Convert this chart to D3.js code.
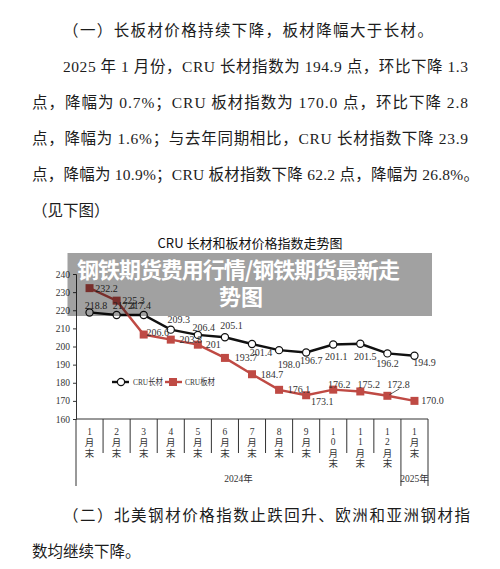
<!DOCTYPE html>
<html>
<head>
<meta charset="utf-8">
<script src="https://cdn.jsdelivr.net/npm/d3@7/dist/d3.min.js"></script>
<style>
  html, body { margin: 0; padding: 0; background: #ffffff; }
  svg { display: block; }
</style>
</head>
<body>
<svg id="chart" width="500" height="569"></svg>
<script>
// ---------------- data ----------------
const categories = ["1月末","2月末","3月末","4月末","5月末","6月末","7月末","8月末","9月末","10月末","11月末","12月末","1月末"];
const longSteel  = [218.8, 217.4, 217.4, 209.3, 206.4, 205.1, 201.4, 198.0, 196.7, 201.1, 201.5, 196.2, 194.9];
const plateSteel = [232.2, 225.3, 206.6, 203.8, 201, 193.7, 184.7, 176.1, 173.1, 176.2, 175.2, 172.8, 170.0];
const yTicks = [160, 170, 180, 190, 200, 210, 220, 230, 240];
const yearGroups = [{label: "2024年", from: 0, to: 11}, {label: "2025年", from: 12, to: 12}];
const seriesNames = ["CRU长材", "CRU板材"];
const chartTitle = "CRU 长材和板材价格指数走势图";
const overlayLines = ["钢铁期货费用行情/钢铁期货最新走", "势图"];
const paraTop = [
  "（一）长板材价格持续下降，板材降幅大于长材。",
  "2025 年 1 月份，CRU 长材指数为 194.9 点，环比下降 1.3",
  "点，降幅为 0.7%；CRU 板材指数为 170.0 点，环比下降 2.8",
  "点，降幅为 1.6%；与去年同期相比，CRU 长材指数下降 23.9",
  "点，降幅为 10.9%；CRU 板材指数下降 62.2 点，降幅为 26.8%。",
  "（见下图）"
];
const paraBottom = [
  "（二）北美钢材价格指数止跌回升、欧洲和亚洲钢材指",
  "数均继续下降。"
];

// ---------------- layout ----------------
const svg = d3.select("#chart");
const serif = "'Liberation Serif', 'Times New Roman', 'Noto Sans CJK SC', serif";
const cjk = "'Noto Sans CJK SC', 'Noto Sans', sans-serif";

// paragraph lines: [x, centerY, textLength or null]
const paraTopLayout = [[63, 30, 370], [63, 66, 405], [32, 102, 436], [32, 138, 436], [32, 174, 447], [32, 210, null]];
const paraBottomLayout = [[63, 515, 407], [32, 551, null]];

function drawPara(lines, layout) {
  lines.forEach((t, i) => {
    const [x, y, len] = layout[i];
    const el = svg.append("text")
      .attr("x", x).attr("y", y)
      .attr("dominant-baseline", "central")
      .attr("font-family", serif)
      .attr("font-size", 15.5)
      .attr("fill", "#1c1c1c")
      .text(t);
    if (len) el.attr("textLength", len).attr("lengthAdjust", "spacing");
  });
}
drawPara(paraTop, paraTopLayout);
drawPara(paraBottom, paraBottomLayout);

// chart scales
const x = d3.scaleBand().domain(d3.range(categories.length)).range([76, 428]).padding(0);
const y = d3.scaleLinear().domain([160, 240]).range([419, 274]);
const cx = i => x(i) + x.bandwidth() / 2;

// title
svg.append("text")
  .attr("x", 250).attr("y", 242)
  .attr("text-anchor", "middle").attr("dominant-baseline", "central")
  .attr("font-family", cjk).attr("font-size", 13).attr("fill", "#111")
  .text(chartTitle);

// y axis
const yAxis = svg.append("g")
  .attr("transform", "translate(76,0)")
  .call(d3.axisLeft(y).tickValues(yTicks).tickSize(3).tickPadding(3).tickFormat(d3.format("d")));
yAxis.select(".domain").attr("stroke", "#333");
yAxis.selectAll(".tick line").attr("stroke", "#333");
yAxis.selectAll(".tick text").attr("font-family", serif).attr("font-size", 9.5).attr("fill", "#333");

// extend y axis downward through the category table
svg.append("line").attr("x1", 76).attr("x2", 76).attr("y1", 419).attr("y2", 486).attr("stroke", "#333");
// x axis baseline
svg.append("line").attr("x1", 76).attr("x2", 428).attr("y1", 419).attr("y2", 419).attr("stroke", "#333");
// category separators
d3.range(1, categories.length + 1).forEach(i => {
  const xx = i < categories.length ? x(i) : 428;
  const isYearEdge = yearGroups.some(g => g.from === i) || i === categories.length;
  svg.append("line")
    .attr("x1", xx).attr("x2", xx)
    .attr("y1", 419).attr("y2", isYearEdge ? 486 : 453)
    .attr("stroke", "#333");
});
// category labels (vertical stacking of characters)
categories.forEach((c, i) => {
  const chars = Array.from(c);
  chars.forEach((ch, k) => {
    svg.append("text")
      .attr("x", cx(i)).attr("y", 432 + k * 10.4)
      .attr("text-anchor", "middle").attr("dominant-baseline", "central")
      .attr("font-family", /[0-9]/.test(ch) ? serif : cjk)
      .attr("font-size", 9.5).attr("fill", "#333")
      .text(ch);
  });
});
// year labels
yearGroups.forEach(g => {
  const x0 = x(g.from), x1 = x(g.to) + x.bandwidth();
  svg.append("text")
    .attr("x", (x0 + x1) / 2).attr("y", 479)
    .attr("text-anchor", "middle").attr("dominant-baseline", "central")
    .attr("font-family", serif).attr("font-size", 9.5).attr("fill", "#333")
    .text(g.label);
});

// lines
const line = d3.line().x((d, i) => cx(i)).y(d => y(d));
const black = "#111111", red = "#bf4a44";
svg.append("path").datum(longSteel).attr("d", line)
  .attr("fill", "none").attr("stroke", black).attr("stroke-width", 2.4);
svg.append("path").datum(plateSteel).attr("d", line)
  .attr("fill", "none").attr("stroke", red).attr("stroke-width", 2.4);

// markers
svg.selectAll(".mk-long").data(longSteel).enter().append("circle")
  .attr("cx", (d, i) => cx(i)).attr("cy", d => y(d)).attr("r", 3.6)
  .attr("fill", "#fff").attr("stroke", black).attr("stroke-width", 1.2);
svg.selectAll(".mk-plate").data(plateSteel).enter().append("rect")
  .attr("x", (d, i) => cx(i) - 4).attr("y", d => y(d) - 4)
  .attr("width", 8).attr("height", 8).attr("fill", red);

// data labels (offsets are layout only)
const longOffsets = [[6.5,-7],[7.4,-9],[-4,-9],[8,-10],[6,-7],[6.5,-12],[9,9],[10,14],[5,8.5],[3,12],[5,13],[0,10],[10,7]];
const plateOffsets = [[17,0],[17,-0.5],[14,-2],[20,0],[15.5,0],[21,0],[20,0],[20,0],[16,6],[6,-5.5],[8.5,-6.5],[11,-11.5],[18,0]];
const fmtLong = d => d.toFixed(1);
const fmtPlate = d => (Number.isInteger(d) && d !== 170 ? String(d) : d.toFixed(1));

// leader line for 172.8
{
  const i = 11;
  svg.append("line")
    .attr("x1", cx(i) + 2).attr("y1", y(plateSteel[i]) - 1)
    .attr("x2", cx(i) + 12).attr("y2", y(plateSteel[i]) - 7)
    .attr("stroke", "#333").attr("stroke-width", 0.8);
}

longSteel.forEach((d, i) => {
  svg.append("text")
    .attr("x", cx(i) + longOffsets[i][0]).attr("y", y(d) + longOffsets[i][1])
    .attr("text-anchor", "middle").attr("dominant-baseline", "central")
    .attr("font-family", serif).attr("font-size", 10).attr("fill", "#333")
    .text(fmtLong(d));
});
plateSteel.forEach((d, i) => {
  svg.append("text")
    .attr("x", cx(i) + plateOffsets[i][0]).attr("y", y(d) + plateOffsets[i][1])
    .attr("text-anchor", "middle").attr("dominant-baseline", "central")
    .attr("font-family", serif).attr("font-size", 10).attr("fill", "#333")
    .text(fmtPlate(d));
});

// legend
const lg = svg.append("g");
lg.append("line").attr("x1", 112).attr("x2", 129).attr("y1", 382).attr("y2", 382).attr("stroke", black).attr("stroke-width", 2.4);
lg.append("circle").attr("cx", 121).attr("cy", 382).attr("r", 3.6).attr("fill", "#fff").attr("stroke", black).attr("stroke-width", 1.2);
lg.append("text").attr("x", 133).attr("y", 382).attr("dominant-baseline", "central")
  .attr("font-family", serif).attr("font-size", 9).attr("fill", "#333")
  .attr("textLength", 30).attr("lengthAdjust", "spacingAndGlyphs").text(seriesNames[0]);
lg.append("line").attr("x1", 165).attr("x2", 182).attr("y1", 382).attr("y2", 382).attr("stroke", red).attr("stroke-width", 2.4);
lg.append("rect").attr("x", 169).attr("y", 378).attr("width", 8).attr("height", 8).attr("fill", red);
lg.append("text").attr("x", 185).attr("y", 382).attr("dominant-baseline", "central")
  .attr("font-family", serif).attr("font-size", 9).attr("fill", "#333")
  .attr("textLength", 30).attr("lengthAdjust", "spacingAndGlyphs").text(seriesNames[1]);

// overlay banner
svg.append("rect").attr("x", 67.5).attr("y", 253).attr("width", 364.5).attr("height", 63)
  .attr("fill", "rgba(0,0,0,0.37)");
svg.append("text").attr("x", 238.5).attr("y", 268)
  .attr("text-anchor", "middle").attr("dominant-baseline", "central")
  .attr("font-family", cjk).attr("font-weight", 700).attr("font-size", 22)
  .attr("fill", "#ffffff").attr("textLength", 323).attr("lengthAdjust", "spacing")
  .text(overlayLines[0]);
svg.append("text").attr("x", 241).attr("y", 295)
  .attr("text-anchor", "middle").attr("dominant-baseline", "central")
  .attr("font-family", cjk).attr("font-weight", 700).attr("font-size", 22)
  .attr("fill", "#ffffff")
  .text(overlayLines[1]);
</script>
</body>
</html>
